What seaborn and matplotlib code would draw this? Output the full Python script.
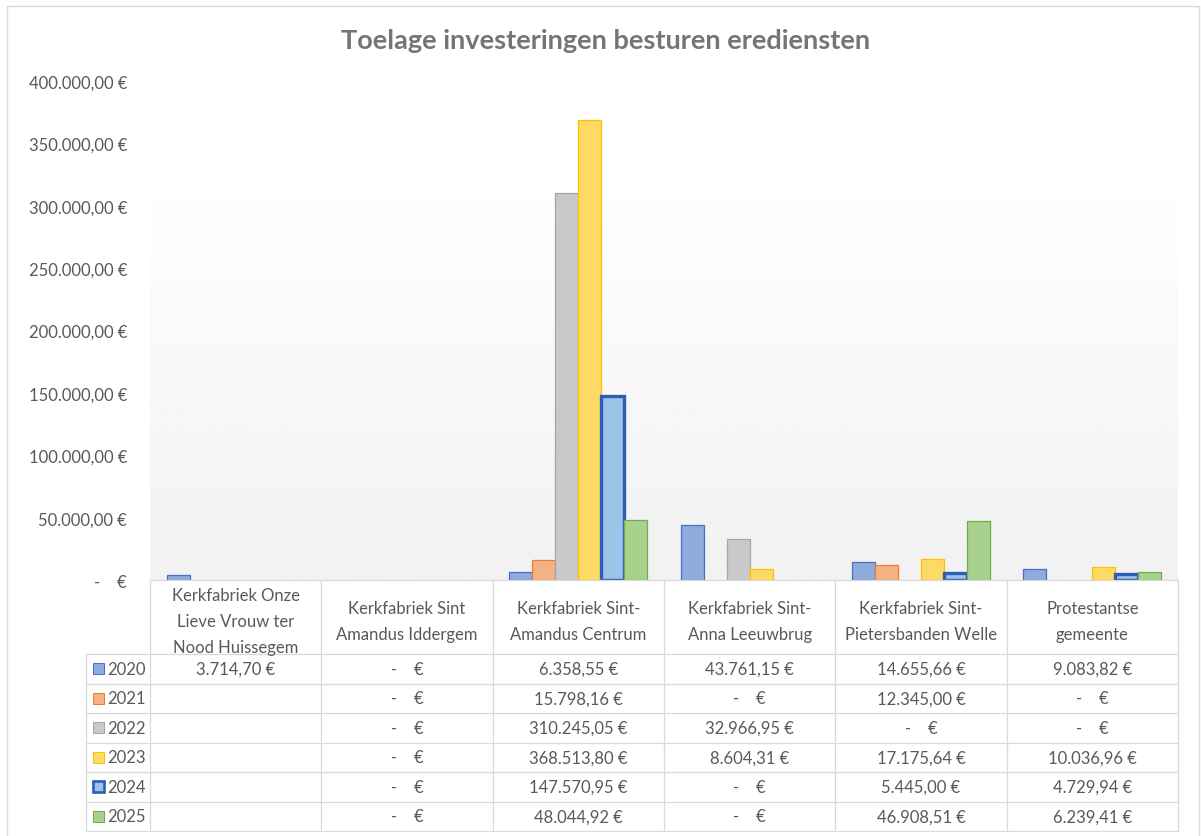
import numpy as np
import pandas as pd
import matplotlib.pyplot as plt
import seaborn as sns
from matplotlib.patches import Rectangle
from matplotlib.transforms import blended_transform_factory

# Data
categories = [
    "Kerkfabriek Onze Lieve Vrouw ter Nood Huissegem",
    "Kerkfabriek Sint Amandus Iddergem",
    "Kerkfabriek Sint-Amandus Centrum",
    "Kerkfabriek Sint-Anna Leeuwbrug",
    "Kerkfabriek Sint-Pietersbanden Welle",
    "Protestantse gemeente",
]
header_labels = [
    "Kerkfabriek Onze\nLieve Vrouw ter\nNood Huissegem",
    "Kerkfabriek Sint\nAmandus Iddergem",
    "Kerkfabriek Sint-\nAmandus Centrum",
    "Kerkfabriek Sint-\nAnna Leeuwbrug",
    "Kerkfabriek Sint-\nPietersbanden Welle",
    "Protestantse\ngemeente",
]
years = ["2020", "2021", "2022", "2023", "2024", "2025"]
v2020 = [3714.70, 0.0, 6358.55, 43761.15, 14655.66, 9083.82]
v2021 = [np.nan, 0.0, 15798.16, 0.0, 12345.00, 0.0]
v2022 = [np.nan, 0.0, 310245.05, 32966.95, 0.0, 0.0]
v2023 = [np.nan, 0.0, 368513.80, 8604.31, 17175.64, 10036.96]
v2024 = [np.nan, 0.0, 147570.95, 0.0, 5445.00, 4729.94]
v2025 = [np.nan, 0.0, 48044.92, 0.0, 46908.51, 6239.41]
series = [v2020, v2021, v2022, v2023, v2024, v2025]
yticks = list(range(0, 400001, 50000))

fills = ["#8FAADC", "#F4B183", "#C9C9C9", "#FFD966", "#9DC3E6", "#A9D18E"]
edges = ["#4472C4", "#ED7D31", "#A5A5A5", "#FFC000", "#2F5DB5", "#70AD47"]
edge_widths = [0.9, 0.9, 0.9, 0.9, 2.4, 0.9]

TEXT = "#595959"
GRID = "#D9D9D9"
FS = 12


def euro(v):
    if np.isnan(v):
        return ""
    if v == 0:
        return "-    €"
    s = f"{v:,.2f}".replace(",", "X").replace(".", ",").replace("X", ".")
    return s + " €"


rows = []
for year, vals in zip(years, series):
    for cat, v in zip(categories, vals):
        if not np.isnan(v):
            rows.append({"categorie": cat, "jaar": year, "bedrag": v})
df = pd.DataFrame(rows)

sns.set_style("white")
plt.rcParams["font.family"] = ["Lato", "DejaVu Sans"]

W, H = 1201, 837
fig = plt.figure(figsize=(W / 100, H / 100), dpi=100)
ax_left, ax_right, ax_top, ax_bottom = 150, 1178, 82, 581
ax_h = ax_bottom - ax_top
ax = fig.add_axes([ax_left / W, (H - ax_bottom) / H, (ax_right - ax_left) / W, ax_h / H])

# outer chart border
fig.patches.append(Rectangle((7 / W, -0.01), (1199 - 7) / W, 1.01 - 7 / H,
                             transform=fig.transFigure, fill=False,
                             edgecolor=GRID, linewidth=1.0))

# soft vertical gradient in the plot area
grad_top = (ax_bottom - 170) / ax_h
yy = np.linspace(0, 1, 300)
shade = np.where(yy > grad_top, 1.0, 0.945 + (1 - 0.945) * yy / grad_top)
img = np.repeat(shade[:, None], 2, axis=1)
ax.imshow(img, extent=[0, 1, 0, 1], transform=ax.transAxes, origin="lower",
          cmap="gray", vmin=0, vmax=1, aspect="auto", zorder=0)

sns.barplot(data=df, x="categorie", y="bedrag", hue="jaar", order=categories,
            hue_order=years, palette=fills, saturation=1, width=0.807,
            errorbar=None, legend=False, ax=ax, zorder=2)

for cont, ec, lw in zip(ax.containers, edges, edge_widths):
    for bar in cont:
        if bar.get_height() == 0:
            bar.set_visible(False)
        bar.set_edgecolor(ec)
        bar.set_linewidth(lw)

ax.set_xlim(-0.5, len(categories) - 0.5)
ax.set_ylim(0, 400000)
ax.set_yticks(yticks)
ax.set_yticklabels([euro(float(t)) for t in yticks], color=TEXT, fontsize=FS)
ax.tick_params(axis="y", length=0, pad=16.5)
ax.set_xticks([])
ax.set_xlabel("")
ax.set_ylabel("")
for sp in ax.spines.values():
    sp.set_visible(False)
ax.patch.set_alpha(0)

fig.text(606 / W, 1 - 49 / H, "Toelage investeringen besturen erediensten",
         ha="center", va="baseline", fontsize=19.5, fontweight="bold", color="#757575")

# data table underneath the axis
def ay(py):
    return (ax_bottom - py) / ax_h


xt = blended_transform_factory(ax.transData, ax.transAxes)
left_col = (86 - ax_left) / (ax_right - ax_left)
header_bot = 655
row_h = (832 - header_bot) / len(years)
row_edges = [header_bot + k * row_h for k in range(len(years) + 1)]
n = len(categories)

line_kw = dict(color=GRID, linewidth=0.9, clip_on=False, zorder=3)
ax.plot([-0.5, n - 0.5], [ay(ax_bottom)] * 2, transform=xt, **line_kw)
for ye in row_edges:
    ax.plot([left_col, 1], [ay(ye)] * 2, transform=ax.transAxes, **line_kw)
ax.plot([left_col] * 2, [ay(header_bot), ay(832)], transform=ax.transAxes, **line_kw)
for xb in np.arange(-0.5, n, 1.0):
    ax.plot([xb, xb], [ay(ax_bottom), ay(832)], transform=xt, **line_kw)

for i, lab in enumerate(header_labels):
    ax.text(i, ay((ax_bottom + header_bot) / 2 + 4), lab, transform=xt, ha="center",
            va="center", fontsize=FS, color=TEXT, linespacing=1.8)

for r, (year, vals) in enumerate(zip(years, series)):
    yc = ay(row_edges[r] + row_h / 2)
    for i, v in enumerate(vals):
        ax.text(i, yc, euro(v), transform=xt, ha="center", va="center",
                fontsize=FS, color=TEXT)
    sq = 11
    ax.add_patch(Rectangle(((93 - ax_left) / (ax_right - ax_left), yc - sq / 2 / ax_h),
                           sq / (ax_right - ax_left), sq / ax_h,
                           transform=ax.transAxes, facecolor=fills[r],
                           edgecolor=edges[r], linewidth=edge_widths[r] * 0.8,
                           clip_on=False, zorder=3))
    ax.text((107 - ax_left) / (ax_right - ax_left), yc, year, transform=ax.transAxes,
            ha="left", va="center", fontsize=FS, color=TEXT)

fig.savefig("out.png", dpi=100)
